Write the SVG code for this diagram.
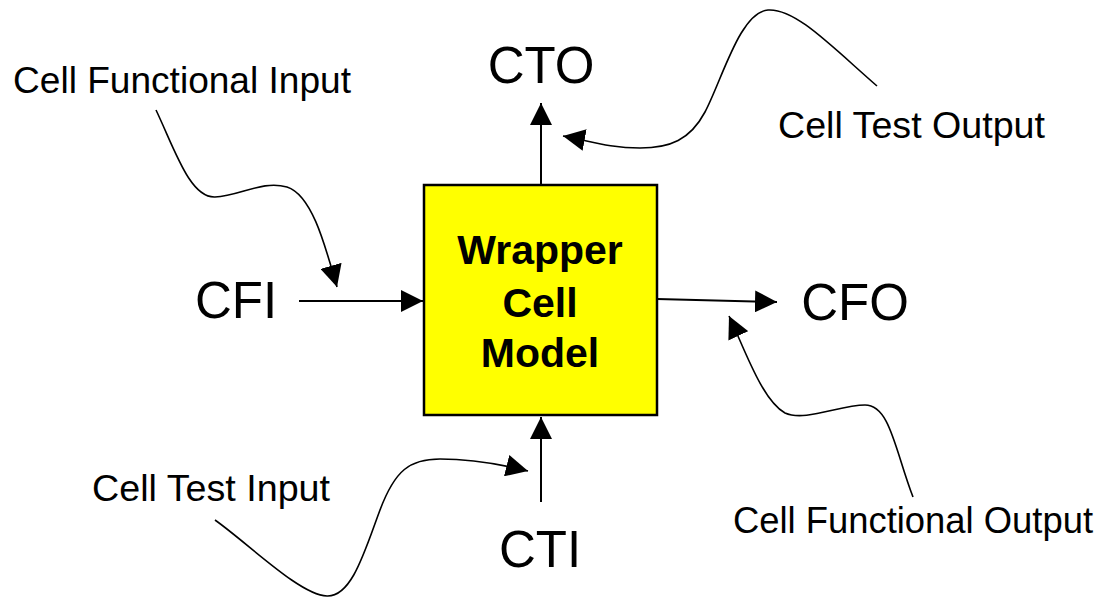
<svg xmlns="http://www.w3.org/2000/svg" width="1101" height="597" viewBox="0 0 1101 597">
<style>
.big{font-family:"Liberation Sans",Arial,sans-serif;font-size:51px;fill:#000;text-anchor:middle}
.lbl{font-family:"Liberation Sans",Arial,sans-serif;font-size:37px;fill:#000}
.box{font-family:"Liberation Sans",Arial,sans-serif;font-size:41px;font-weight:bold;fill:#000;text-anchor:middle}
.ln{fill:none;stroke:#000;stroke-width:2}
.cv{fill:none;stroke:#000;stroke-width:1.6}
</style>
<defs>
<marker id="ah" markerUnits="userSpaceOnUse" markerWidth="22" markerHeight="22" viewBox="0 0 22 22" refX="22" refY="11" orient="auto">
<path d="M0,0 L22,11 L0,22 z" fill="#000"/>
</marker>
</defs>
<g id="connectors">
<line class="ln" x1="541" y1="185" x2="541" y2="103" marker-end="url(#ah)"/>
<line class="ln" x1="299" y1="301" x2="423" y2="301" marker-end="url(#ah)"/>
<line class="ln" x1="657" y1="299" x2="777" y2="302" marker-end="url(#ah)"/>
<line class="ln" x1="541" y1="502" x2="541" y2="417" marker-end="url(#ah)"/>
<path class="cv" d="M877,86 C830,45 795,8 768,10 C740,12 722,80 705,112 C690,140 670,148 640,148 C610,148 590,141 563,136" marker-end="url(#ah)"/>
<path class="cv" d="M156,110 C175,150 190,198 215,197 C240,196 262,180 287,187 C312,195 325,245 337,287" marker-end="url(#ah)"/>
<path class="cv" d="M913,497 C895,450 890,405 865,405 C840,405 805,422 785,413 C762,400 745,350 729,316" marker-end="url(#ah)"/>
<path class="cv" d="M215,520 C250,545 300,595 327,596 C352,597 365,550 380,510 C395,470 410,459 440,459 C470,459 500,464 528,471" marker-end="url(#ah)"/>
</g>
<g id="wrapper-cell-model">
<rect x="424" y="185" width="233" height="230" fill="#ffff00" stroke="#000" stroke-width="2.5"/>
<text class="box" x="540" y="264">Wrapper</text>
<text class="box" x="540" y="317">Cell</text>
<text class="box" x="540" y="367">Model</text>
</g>
<g id="cto"><text class="big" x="541" y="83">CTO</text></g>
<g id="cfi"><text class="big" x="236" y="318">CFI</text></g>
<g id="cfo"><text class="big" x="855" y="320">CFO</text></g>
<g id="cti"><text class="big" x="540" y="567">CTI</text></g>
<g id="cell-functional-input"><text class="lbl" x="13" y="93" textLength="338" lengthAdjust="spacingAndGlyphs">Cell Functional Input</text></g>
<g id="cell-test-output"><text class="lbl" x="778" y="138" textLength="267" lengthAdjust="spacingAndGlyphs">Cell Test Output</text></g>
<g id="cell-test-input"><text class="lbl" x="92" y="501" textLength="238" lengthAdjust="spacingAndGlyphs">Cell Test Input</text></g>
<g id="cell-functional-output"><text class="lbl" x="733" y="533" textLength="360" lengthAdjust="spacingAndGlyphs">Cell Functional Output</text></g>
</svg>
